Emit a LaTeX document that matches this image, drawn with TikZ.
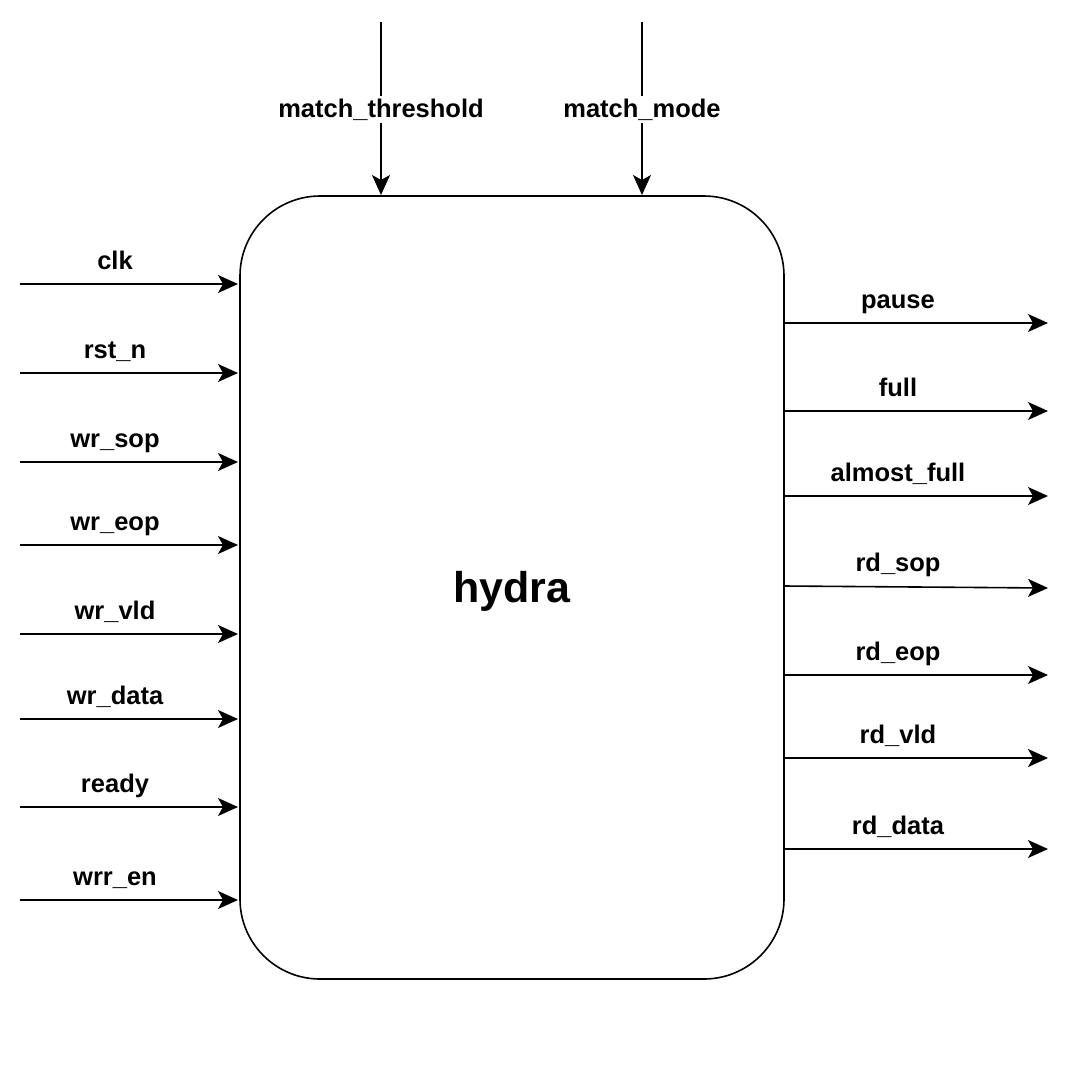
\documentclass[tikz,border=0pt]{standalone}
\usepackage{fontspec}
\setmainfont{Liberation Sans}
\usetikzlibrary{arrows.meta}
\begin{document}
\begin{tikzpicture}[x=1pt,y=-1pt,
  sig/.style={line width=1.6pt,-{Stealth[length=20pt,width=18pt,inset=5pt]}},
  lbl/.style={font=\fontsize{25.5}{30}\selectfont\bfseries,inner sep=0pt,anchor=base},
  toplbl/.style={lbl,fill=white,inner sep=3pt}]
\useasboundingbox (0,0) rectangle (1074,1077);
\node[draw,line width=1.6pt,rounded corners=80pt,minimum width=544pt,minimum height=783pt,inner sep=0pt] (hydra) at (512,587.5) {};
\node[font=\fontsize{43}{50}\selectfont\bfseries,anchor=base,inner sep=0pt] (title) at (512,602) {hydra};
% left inputs
\foreach \n/\t/\y in {clk/clk/284, rst/rst\_n/373, wsop/wr\_sop/462, weop/wr\_eop/545, wvld/wr\_vld/634, wdata/wr\_data/719, ready/ready/807, wrren/wrr\_en/900}{
  \coordinate (s\n) at (20,\y);
  \coordinate (e\n) at (238,\y);
  \draw[sig] (s\n) -- (e\n);
  \node[lbl] (l\n) at (115,\y-15) {\t};
}
% right outputs
\foreach \n/\t/\y/\z in {pause/pause/323/323, full/full/411/411, afull/almost\_full/496/496, rsop/rd\_sop/586/588, reop/rd\_eop/675/675, rvld/rd\_vld/758/758, rdata/rd\_data/849/849}{
  \coordinate (s\n) at (784,\y);
  \coordinate (e\n) at (1048,\z);
  \draw[sig] (s\n) -- (e\n);
  \node[lbl] (l\n) at (898,\y-15) {\t};
}
% top inputs
\coordinate (sthr) at (381,22);
\coordinate (ethr) at (381,195);
\draw[sig] (sthr) -- (ethr);
\node[toplbl] (lthr) at (381,117) {match\_threshold};
\coordinate (smode) at (642,22);
\coordinate (emode) at (642,195);
\draw[sig] (smode) -- (emode);
\node[toplbl] (lmode) at (642,117) {match\_mode};
\end{tikzpicture}
\end{document}
